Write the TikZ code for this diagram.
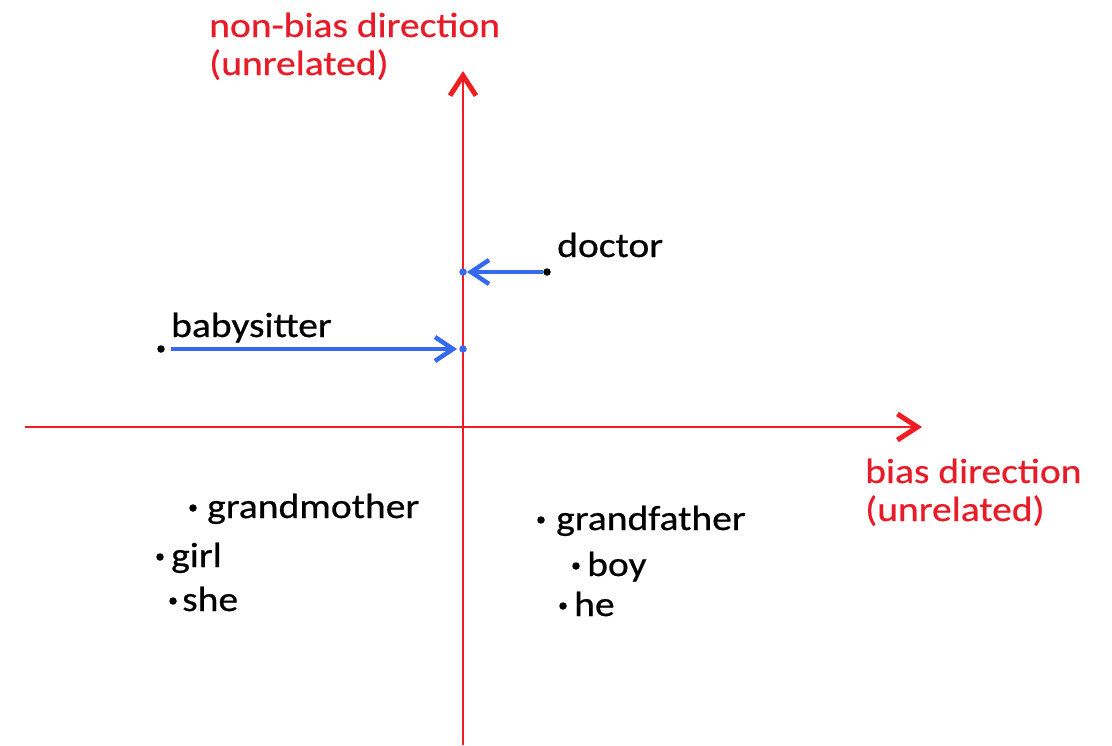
\documentclass[tikz,border=0pt]{standalone}
\usepackage{fontspec}
\setmainfont{Carlito}[FakeStretch=1.13, FakeBold=0.6]
\usetikzlibrary{arrows.meta}
\definecolor{axisred}{RGB}{240,30,35}
\definecolor{labelred}{RGB}{232,28,40}
\definecolor{projblue}{RGB}{55,105,240}
\tikzset{
  axis/.style={draw=axisred, line width=2.5pt,
    -{Straight Barb[length=20pt,width=26pt,line width=5pt]}},
  proj/.style={draw=projblue, line width=4.5pt,
    -{Straight Barb[length=18pt,width=24pt,line width=4.5pt]}},
  word/.style={anchor=base west, inner sep=0pt, font=\fontsize{35}{38}\selectfont},
  % two-line captions: the base anchor sits on the last line
  dirlabel/.style={anchor=base west, inner sep=0pt, text=labelred, align=left,
    font=\fontsize{35}{38}\selectfont},
  dot/.style={circle, fill=black, inner sep=0pt, minimum size=7.5pt},
  footdot/.style={circle, fill=projblue, inner sep=0pt, minimum size=7.5pt}
}
\begin{document}
\begin{tikzpicture}[x=1pt, y=-1pt]
  \useasboundingbox (0,0) rectangle (1112,745);

  % axes
  \coordinate (xl) at (25,427);
  \coordinate (xr) at (922,427);
  \coordinate (yb) at (463,745);
  \coordinate (yt) at (463,71);
  \draw[axis] (xl) -- (xr);
  \draw[axis] (yb) -- (yt);

  % axis captions
  \node[dirlabel] (ylab) at (209,75) {non-bias direction\\(unrelated)};
  \node[dirlabel] (xlab) at (865,521) {bias direction\\(unrelated)};

  % projected words
  \node[dot] (doc) at (547,272) {};
  \node[word] (doct) at (557,257) {doctor};
  \node[footdot] (docp) at (463,272) {};
  \draw[proj] (doc) -- (docp);

  \node[dot] (baby) at (161,349) {};
  \node[word] (babyt) at (171,337) {babysitter};
  \node[footdot] (babyp) at (463,349) {};
  \draw[proj, shorten <=6pt, shorten >=2pt] (baby) -- (babyp);

  % gendered words
  \node[dot] (gm) at (193,508) {};
  \node[word] (gmt) at (207,518) {grandmother};
  \node[dot] (girl) at (160,557) {};
  \node[word] (girlt) at (171,567) {girl};
  \node[dot] (she) at (173,601) {};
  \node[word] (shet) at (182,611) {she};

  \node[dot] (gf) at (541,520) {};
  \node[word] (gft) at (556,530) {grandfather};
  \node[dot] (boy) at (576,566) {};
  \node[word] (boyt) at (587,576) {boy};
  \node[dot] (he) at (563,606) {};
  \node[word] (het) at (574,616) {he};
\end{tikzpicture}
\end{document}
